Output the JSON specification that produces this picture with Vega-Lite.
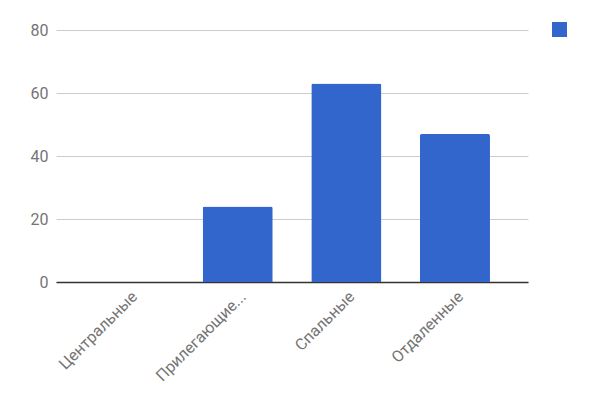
{
  "$schema": "https://vega.github.io/schema/vega-lite/v6.json",
  "width": 472,
  "height": 252,
  "autosize": {"type": "none"},
  "padding": {"left": 56, "top": 30, "right": 78, "bottom": 119},
  "background": "white",
  "config": {
    "view": {"stroke": null},
    "font": "Roboto",
    "axis": {
      "labelFont": "Roboto",
      "labelFontSize": 16,
      "labelColor": "#757575",
      "ticks": false,
      "title": null
    }
  },
  "data": {
    "values": [
      {"district": "Центральные", "value": 0, "series": " "},
      {"district": "Прилегающие...", "value": 24, "series": " "},
      {"district": "Спальные", "value": 63, "series": " "},
      {"district": "Отдаленные", "value": 47, "series": " "}
    ]
  },
  "mark": {"type": "bar", "cornerRadiusTopLeft": 2, "cornerRadiusTopRight": 2},
  "encoding": {
    "x": {
      "field": "district",
      "type": "nominal",
      "sort": null,
      "scale": {"paddingInner": 0.355, "paddingOuter": 0.35},
      "axis": {
        "labelAngle": -45,
        "labelPadding": 6,
        "domainColor": "#333333",
        "domainWidth": 1.5,
        "grid": false
      }
    },
    "y": {
      "field": "value",
      "type": "quantitative",
      "scale": {"domain": [0, 80]},
      "axis": {
        "values": [0, 20, 40, 60, 80],
        "domain": false,
        "gridColor": "#cccccc",
        "labelPadding": 8
      }
    },
    "color": {
      "field": "series",
      "type": "nominal",
      "scale": {"range": ["#3366cc"]},
      "legend": {
        "title": null,
        "orient": "none",
        "legendX": 496,
        "legendY": -8,
        "symbolType": "square",
        "symbolSize": 225,
        "symbolStrokeWidth": 0,
        "labelFontSize": 14
      }
    }
  }
}
